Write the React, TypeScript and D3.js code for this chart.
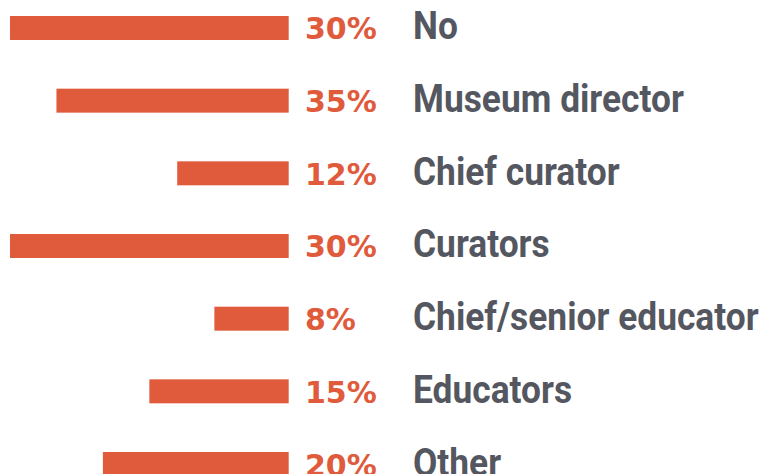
import * as d3 from "d3";

// categories top to bottom
const categories = [
  "No",
  "Museum director",
  "Chief curator",
  "Curators",
  "Chief/senior educator",
  "Educators",
  "Other",
];
// bar lengths as drawn in the picture (percent)
const barValues = [30, 25, 12, 30, 8, 15, 20];
// printed value labels
const valueLabels = ["30%", "35%", "12%", "30%", "8%", "15%", "20%"];

const width = 763;
const height = 474;
const barColor = "#E05A3C";
const textColor = "#54575F";

const App = () => {
  const x = d3.scaleLinear().domain([0, 30]).range([288.7, 10]);
  const y = d3
    .scaleBand<string>()
    .domain(categories)
    .range([16, 476])
    .paddingInner(0.67)
    .paddingOuter(0);
  const bw = y.bandwidth();

  return (
    <svg
      width={width}
      height={height}
      viewBox={`0 0 ${width} ${height}`}
      style={{ position: "absolute", left: 0, top: 0 }}
    >
      <rect width={width} height={height} fill="#fff" />
      {categories.map((c, i) => {
        const top = y(c) ?? 0;
        const v = barValues[i];
        return (
          <g key={c}>
            <rect
              x={x(v)}
              y={top}
              width={x(0) - x(v)}
              height={bw}
              fill={barColor}
            />
            <text
              x={305}
              y={top + bw - 0.5}
              fill={barColor}
              fontFamily="'DejaVu Sans', sans-serif"
              fontWeight={700}
              fontSize={30}
            >
              {valueLabels[i]}
            </text>
            <text
              transform={`translate(413, ${top + bw - 0.5}) scale(0.93, 1)`}
              fill={textColor}
              fontFamily="Roboto, sans-serif"
              fontWeight={700}
              fontSize={38}
            >
              {c}
            </text>
          </g>
        );
      })}
    </svg>
  );
};

export default App;
